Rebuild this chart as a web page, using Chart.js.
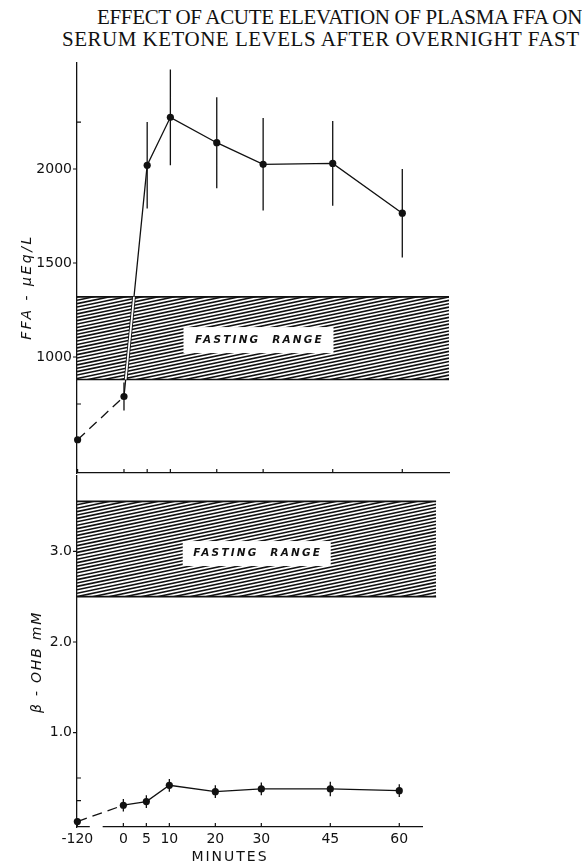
<!DOCTYPE html>
<html>
<head>
<meta charset="utf-8">
<script src="https://cdn.jsdelivr.net/npm/chart.js@4.4.1/dist/chart.umd.min.js"></script>
<style>
  html, body { margin: 0; padding: 0; background: #fff; }
  #wrap { position: relative; width: 582px; height: 864px; overflow: hidden; }
  .title {
    position: absolute; white-space: nowrap; text-align: center;
    font-family: "Liberation Serif", serif; font-size: 21px; line-height: 22px; color: #111;
  }
  #title1 { left: 97px; width: 483px; top: 6px; letter-spacing: -0.33px; }
  #title2 { left: 62px; width: 516px; top: 28px; letter-spacing: 0.5px; }
  canvas { position: absolute; left: 0; }
  #ffaChart { top: 0; }
  #ohbChart { top: 470px; }
</style>
</head>
<body>
<div id="wrap">
  <div class="title" id="title1">EFFECT OF ACUTE ELEVATION OF PLASMA FFA ON</div>
  <div class="title" id="title2">SERUM KETONE LEVELS AFTER OVERNIGHT FAST</div>
  <canvas id="ffaChart" width="582" height="480"></canvas>
  <canvas id="ohbChart" width="582" height="394"></canvas>
</div>
<script>
const minutes = [-120, 0, 5, 10, 20, 30, 45, 60];

const ffaValues = [560, 790, 2020, 2275, 2140, 2025, 2030, 1765];
const ffaErrors = [0, 75, 230, 255, 242, 246, 226, 235];
const ffaFastingRange = [880, 1320];
const ffaTickLabels = [1000, 1500, 2000];
const ffaMinorTicks = [750, 2250];

const ohbValues = [0.02, 0.20, 0.24, 0.42, 0.35, 0.38, 0.38, 0.36];
const ohbErrors = [0, 0.07, 0.07, 0.07, 0.07, 0.07, 0.08, 0.07];
const ohbFastingRange = [2.5, 3.55];
const ohbTickLabels = [1.0, 2.0, 3.0];
const ohbMinorTicks = [0.25, 0.5];

// axis is broken between -120 and 0, so -120 sits a little left of 0
const xPos = m => (m < 0 ? -10 : m);
const ink = '#111';

const panelDecor = {
  id: 'panelDecor',
  beforeDatasetsDraw(chart, args, opts) {
    const { ctx, chartArea } = chart;
    const x = chart.scales.x, y = chart.scales.y;
    const left = chartArea.left, right = x.getPixelForValue(opts.bandEnd);
    const top = y.getPixelForValue(opts.band[1]), bottom = y.getPixelForValue(opts.band[0]);

    // hatched fasting range
    ctx.save();
    ctx.beginPath();
    ctx.rect(left, top, right - left, bottom - top);
    ctx.clip();
    ctx.strokeStyle = ink;
    ctx.lineWidth = 1.6;
    const rise = (right - left) * 0.21;
    ctx.beginPath();
    for (let yy = top; yy < bottom + rise + 4; yy += 3.4) {
      ctx.moveTo(left, yy);
      ctx.lineTo(right, yy - rise);
    }
    ctx.stroke();
    ctx.restore();

    ctx.save();
    ctx.strokeStyle = ink;
    ctx.lineWidth = 1.6;
    ctx.beginPath();
    ctx.moveTo(left, top); ctx.lineTo(right, top);
    ctx.moveTo(left, bottom); ctx.lineTo(right, bottom);
    ctx.stroke();

    const cx = x.getPixelForValue(opts.labelAt[0]), cy = y.getPixelForValue(opts.labelAt[1]);
    ctx.fillStyle = '#fff';
    ctx.fillRect(cx - opts.box[0] / 2, cy - opts.box[1] / 2, opts.box[0], opts.box[1]);
    ctx.fillStyle = ink;
    ctx.font = 'italic bold 10.5px "DejaVu Sans"';
    ctx.letterSpacing = '2.2px';
    ctx.textAlign = 'center';
    ctx.textBaseline = 'middle';
    ctx.fillText('FASTING  RANGE', cx + 1, cy);
    ctx.restore();

    // error bars
    const meta = chart.getDatasetMeta(0);
    ctx.save();
    ctx.strokeStyle = ink;
    ctx.lineWidth = 1.3;
    ctx.beginPath();
    opts.errors.forEach((e, i) => {
      if (!e) return;
      const v = opts.values[i];
      const px = meta.data[i].x;
      ctx.moveTo(px, y.getPixelForValue(v + e));
      ctx.lineTo(px, y.getPixelForValue(v - e));
    });
    ctx.stroke();
    ctx.restore();
  },
  afterDatasetsDraw(chart, args, opts) {
    const { ctx, chartArea } = chart;
    const x = chart.scales.x, y = chart.scales.y;
    const left = chartArea.left, right = x.getPixelForValue(opts.bandEnd);
    const top = y.getPixelForValue(opts.band[1]), bottom = y.getPixelForValue(opts.band[0]);
    const pts = chart.getDatasetMeta(0).data;

    // where the curve crosses the hatching it shows as a double line
    ctx.save();
    ctx.beginPath();
    ctx.rect(left, top, right - left, bottom - top);
    ctx.clip();
    for (let i = 1; i < pts.length; i++) {
      ctx.beginPath();
      ctx.moveTo(pts[i - 1].x, pts[i - 1].y);
      ctx.lineTo(pts[i].x, pts[i].y);
      ctx.strokeStyle = ink; ctx.lineWidth = 3.6; ctx.stroke();
      ctx.strokeStyle = '#fff'; ctx.lineWidth = 1.8; ctx.stroke();
    }
    ctx.restore();
  },
  afterDraw(chart, args, opts) {
    const { ctx, chartArea } = chart;
    const x = chart.scales.x, y = chart.scales.y;
    ctx.save();
    ctx.strokeStyle = ink;
    ctx.lineWidth = 1.2;
    ctx.beginPath();
    minutes.forEach(m => {
      const px = x.getPixelForValue(xPos(m));
      ctx.moveTo(px, chartArea.bottom);
      ctx.lineTo(px, chartArea.bottom - 4);
    });
    opts.majorTicks.forEach(v => {
      const py = y.getPixelForValue(v);
      ctx.moveTo(chartArea.left - 4, py);
      ctx.lineTo(chartArea.left, py);
    });
    opts.minorTicks.forEach(v => {
      const py = y.getPixelForValue(v);
      ctx.moveTo(chartArea.left, py);
      ctx.lineTo(chartArea.left + 4, py);
    });
    ctx.stroke();

    if (opts.axisBreak) {
      const a = x.getPixelForValue(opts.axisBreak[0]), b = x.getPixelForValue(opts.axisBreak[1]);
      ctx.fillStyle = '#fff';
      ctx.fillRect(a, chartArea.bottom - 2, b - a, 4);
    }

    ctx.fillStyle = ink;
    ctx.textAlign = 'center';
    ctx.textBaseline = 'middle';
    ctx.font = 'italic 14px "DejaVu Sans"';
    ctx.letterSpacing = opts.yTitleSpacing;
    ctx.translate(opts.yTitleAt[0], opts.yTitleAt[1]);
    ctx.rotate(-Math.PI / 2);
    ctx.fillText(opts.yTitle, 0, 0);
    ctx.restore();

    if (opts.xTitle) {
      ctx.save();
      ctx.fillStyle = ink;
      ctx.textAlign = 'center';
      ctx.textBaseline = 'middle';
      ctx.font = '14px "DejaVu Sans"';
      ctx.letterSpacing = '2px';
      ctx.fillText(opts.xTitle, opts.xTitleAt[0], opts.xTitleAt[1]);
      ctx.restore();
    }
  }
};

function panel(id, values, errors, cfg) {
  return new Chart(document.getElementById(id), {
    type: 'line',
    data: {
      datasets: [{
        data: minutes.map((m, i) => ({ x: xPos(m), y: values[i] })),
        borderColor: ink,
        borderWidth: 1.3,
        pointRadius: 3.6,
        pointBackgroundColor: ink,
        pointBorderWidth: 0,
        clip: false,
        segment: { borderDash: c => (c.p0DataIndex === 0 ? [10, 6] : undefined) }
      }]
    },
    options: {
      responsive: false,
      animation: false,
      devicePixelRatio: 1,
      layout: { padding: cfg.padding },
      plugins: {
        legend: { display: false },
        tooltip: { enabled: false },
        panelDecor: Object.assign({ values: values, errors: errors }, cfg.decor)
      },
      scales: {
        x: {
          type: 'linear',
          min: cfg.xRange[0],
          max: cfg.xRange[1],
          grid: { display: false, drawTicks: false },
          border: { color: ink, width: 1.3 },
          afterBuildTicks: s => { s.ticks = minutes.map(m => ({ value: xPos(m) })); },
          afterFit: s => { s.height = cfg.xHeight; },
          ticks: {
            display: cfg.xLabels,
            autoSkip: false,
            maxRotation: 0,
            padding: 4,
            color: ink,
            font: { family: 'DejaVu Sans', size: 14 },
            callback: (v, i) => String(minutes[i])
          }
        },
        y: {
          min: cfg.yRange[0],
          max: cfg.yRange[1],
          grid: { display: false, drawTicks: false },
          border: { color: ink, width: 1.3 },
          afterBuildTicks: s => { s.ticks = cfg.decor.majorTicks.map(v => ({ value: v })); },
          afterFit: s => { s.width = 77; s.paddingTop = 0; s.paddingBottom = 0; },
          ticks: {
            padding: 5,
            color: ink,
            font: { family: 'DejaVu Sans', size: 14 },
            callback: cfg.yFormat
          }
        }
      }
    },
    plugins: [panelDecor]
  });
}

panel('ffaChart', ffaValues, ffaErrors, {
  padding: { top: 63, right: 133, bottom: 7, left: 0 },
  xRange: [-10.13, 70.07],
  yRange: [383, 2564],
  xHeight: 0,
  xLabels: false,
  yFormat: v => String(v),
  decor: {
    band: ffaFastingRange,
    bandEnd: 70.07,
    labelAt: [29, 1090],
    box: [150, 26],
    majorTicks: ffaTickLabels,
    minorTicks: ffaMinorTicks,
    yTitle: 'FFA - \u03bcEq/L',
    yTitleAt: [27, 287],
    yTitleSpacing: '2.5px'
  }
});

panel('ohbChart', ohbValues, ohbErrors, {
  padding: { top: 6, right: 160, bottom: 0, left: 0 },
  xRange: [-10.08, 64.94],
  yRange: [-0.04, 3.83],
  xHeight: 37,
  xLabels: true,
  yFormat: v => v.toFixed(1),
  decor: {
    band: ohbFastingRange,
    bandEnd: 68,
    labelAt: [29, 2.975],
    box: [148, 25],
    majorTicks: ohbTickLabels,
    minorTicks: ohbMinorTicks,
    axisBreak: [-7.3, -4.5],
    yTitle: '\u03b2 - OHB mM',
    yTitleAt: [37, 192],
    yTitleSpacing: '1.8px',
    xTitle: 'MINUTES',
    xTitleAt: [230, 387]
  }
});
</script>
</body>
</html>
